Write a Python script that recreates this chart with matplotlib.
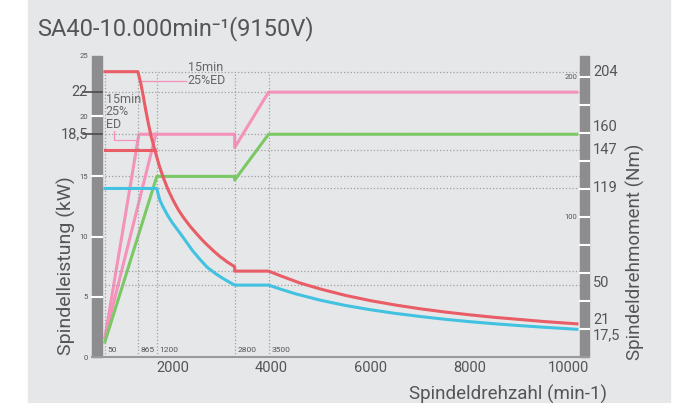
"""
Power / torque chart for spindle SA40-10.000min-1 (9150V).
"""

import matplotlib
matplotlib.use("Agg")
import matplotlib.pyplot as plt
from matplotlib.patches import Rectangle

plt.rcParams['font.family'] = ['Roboto', 'DejaVu Sans']

# --- data ---
# power curves (kW)
pink_speed = [626, 1313, 3253, 3253, 3939, 10180]
pink_power = [1.6, 18.5, 18.5, 17.4, 22.0, 22.0]
pink2_speed = [626, 1657]
pink2_power = [1.6, 18.5]
green_speed = [626, 1677, 3253, 3253, 3939, 10180]
green_power = [1.25, 15.0, 15.0, 14.7, 18.5, 18.5]

# torque curves (Nm)
red_speed = [626, 1293, 1350, 1400, 1450, 1500, 1560, 1636, 1720, 1800, 1900, 2000,
             2100, 2200, 2350, 2485, 2600, 2700, 2820, 2949, 3100, 3253, 3253,
             3939, 4200, 4566, 5000, 5500, 6000, 6500, 7000, 7500, 8000, 8500,
             9000, 9500, 10180]
red_torque = [204, 204, 196, 187, 177, 168, 158, 148, 137.5, 129, 120, 112.5,
              106, 100.5, 93.5, 88, 83.5, 80, 76, 72, 68, 64.5, 61.4,
              61.4, 57.8, 53, 48.5, 44, 40.3, 37.2, 34.5, 32.2, 30.2, 28.4,
              26.9, 25.4, 23.7]
red2_speed = [626, 1636]
red2_torque = [148, 148]
cyan_speed = [626, 1677, 1700, 1740, 1800, 1900, 2000, 2146, 2300, 2400, 2550,
              2692, 2850, 3000, 3130, 3253, 3939, 4200, 4500, 5000, 5500, 6000,
              6500, 7000, 7500, 8000, 8500, 9000, 9500, 10180]
cyan_torque = [120.5, 120.5, 117, 112, 107.5, 101, 95.5, 88.6, 81, 76, 69.8,
               64.3, 60, 56.5, 53.8, 51.4, 51.4, 48.3, 45, 40.5, 36.8, 33.8,
               31.2, 29, 27, 25.3, 23.8, 22.5, 21.3, 19.8]

# guide lines
guide_speeds = [626, 1293, 1677, 3253, 3939]
guide_labels = ['50', '865', '1200', '2800', '3500']
guide_power = [22.0, 18.5, 15.0]
guide_torque = [204, 148, 120.5, 61.4, 51.4]

x_ticks = [2000, 4000, 6000, 8000, 10000]
power_ticks = [0, 5, 10, 15, 20, 25]
power_marks = [22, 18.5]
power_mark_labels = ['22', '18,5']
torque_ticks = [100, 200]
torque_marks = [204, 160, 147, 119, 50, 21, 17.5]
torque_mark_labels = ['204', '160', '147', '119', '50', '21', '17,5']
torque_label_pos = [203.6, 164.3, 147.9, 120.7, 52.9, 26.4, 15.7]

BG = '#e6e7e9'
BAR = '#8d8d8f'
TXT = '#555555'
RED = '#e85d66'
PINK = '#f492ba'
GREEN = '#7bc965'
CYAN = '#42c2e1'
DOT = '#a0a0a0'

W, H = 690, 403
fig = plt.figure(figsize=(W / 100, H / 100), dpi=100)
fig.patch.set_facecolor('white')
fig.patches.append(Rectangle((28 / W, 0), 642 / W, 1, transform=fig.transFigure,
                             color=BG, zorder=-5))

ax = fig.add_axes([102 / W, 46 / H, 478 / W, 301 / H])
ax.set_facecolor('none')
ax.set_xlim(567, 10243)
ax.set_ylim(0, 25)
for s in ax.spines.values():
    s.set_visible(False)

ax2 = ax.twinx()
ax2.set_ylim(0, 215.2)
for s in ax2.spines.values():
    s.set_visible(False)
ax2.set_yticks([])

bw = 10 / 478
yt = ax.get_yaxis_transform()
yt2 = ax2.get_yaxis_transform()

# side bars
ax.add_patch(Rectangle((-bw, 0), bw, 25, transform=yt, color=BAR, clip_on=False, zorder=1))
ax.add_patch(Rectangle((1, 0), 9 / 478, 25, transform=yt, color=BAR, clip_on=False, zorder=1))
for v in power_ticks[1:-1]:
    ax.plot([-bw, 0], [v, v], transform=yt, color='white', lw=1.5, clip_on=False, zorder=2)
for v in range(20, 201, 20):
    ax2.plot([1, 1 + 9 / 478], [v, v], transform=yt2, color='white', lw=1.5, clip_on=False, zorder=2)
for v, lab in zip(power_marks, power_mark_labels):
    ax.plot([-19 / 478, 0], [v, v], transform=yt, color='#4a4a4a', lw=1.2, clip_on=False, zorder=3)
    ax.text(-14 / 478, v, lab, transform=yt, ha='right', va='center', fontsize=10.5, color=TXT)

# x axis line
ax.plot([-bw, 1 + 9 / 478], [0, 0], transform=yt, color='#9a9a9a', lw=1.5, clip_on=False, zorder=2)

# ticks
ax.set_xticks(x_ticks)
ax.set_xticklabels([str(t) for t in x_ticks])
ax.tick_params(axis='x', length=0, pad=3, labelsize=10.5, labelcolor=TXT)
ax.set_yticks(power_ticks)
ax.set_yticklabels([str(t) for t in power_ticks])
ax.tick_params(axis='y', length=0, pad=10, labelsize=5.5, labelcolor=TXT)

for v in torque_ticks:
    ax2.text(1 - 3 / 478, v, str(v), transform=yt2, ha='right', va='center', fontsize=5.5, color=TXT)
for lab, pos in zip(torque_mark_labels, torque_label_pos):
    ax2.text(1 + 13 / 478, pos, lab, transform=yt2, ha='left', va='center', fontsize=10.5, color=TXT)

# guides
for x, lab in zip(guide_speeds, guide_labels):
    ax2.plot([x, x], [0, 204], color=DOT, lw=0.9, ls=':', zorder=1)
    ax2.annotate(lab, (x, 0), xytext=(2, 3), textcoords='offset points',
                 fontsize=6, color=TXT, va='bottom', ha='left')
for v in guide_power:
    ax.plot([626, 10243], [v, v], color=DOT, lw=0.9, ls=':', zorder=1)
for v in guide_torque:
    ax2.plot([626, 10243], [v, v], color=DOT, lw=0.9, ls=':', zorder=1)

# curves
lw = 2.2
style = dict(lw=lw, zorder=3, solid_joinstyle='round')
ax.plot(pink2_speed, pink2_power, color=PINK, **style)
ax.plot(pink_speed, pink_power, color=PINK, **style)
ax.plot(green_speed, green_power, color=GREEN, **style)
ax2.plot(cyan_speed, cyan_torque, color=CYAN, **style)
ax2.plot(red2_speed, red2_torque, color=RED, **style)
ax2.plot(red_speed, red_torque, color=RED, **style)

# annotations
ax.text(2300, 24.55, '15min\n25%ED', fontsize=9, color='#666666', va='top', ha='left',
        linespacing=0.95)
ax2.plot([1340, 2260], [197.5, 197.5], color=PINK, lw=0.9, zorder=2)
ax.text(640, 21.95, '15min\n25%\nED', fontsize=9, color='#666666', va='top', ha='left',
        linespacing=0.95)
ax.plot([800, 800, 1250], [18.75, 18.0, 18.0], color=PINK, lw=0.9, zorder=2)

# labels
fig.text(37 / W, 1 - 35 / H, 'SA40-10.000min⁻¹(9150V)',
         fontsize=17, color=TXT, va='baseline', ha='left')
fig.text(66 / W, 1 - 266 / H, 'Spindelleistung (kW)', rotation=90, fontsize=14,
         color=TXT, ha='center', va='center')
fig.text(635 / W, 1 - 252 / H, 'Spindeldrehmoment (Nm)', rotation=90, fontsize=13.5,
         color=TXT, ha='center', va='center')
fig.text(607 / W, 1 - 394 / H, 'Spindeldrehzahl (min-1)', fontsize=13.5,
         color=TXT, ha='right', va='center')

fig.savefig('out.png', dpi=100)
